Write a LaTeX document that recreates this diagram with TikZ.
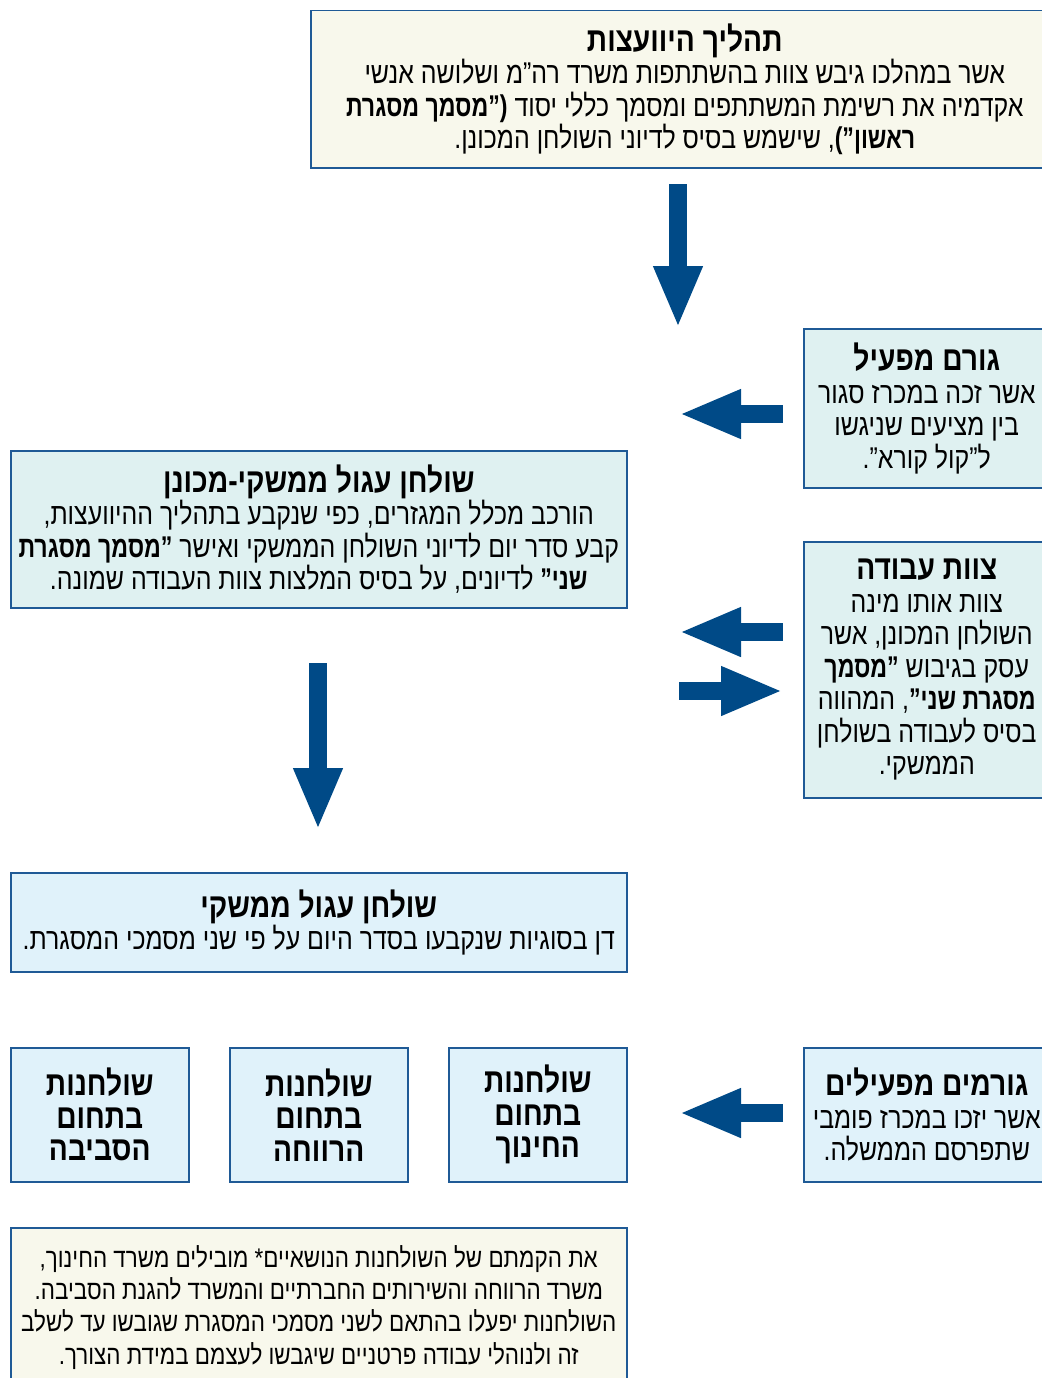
\documentclass[tikz,border=0pt]{standalone}
\usepackage{fontspec}
\usetikzlibrary{arrows.meta}
\TeXXeTstate=1
\newfontfamily\hebfont[Script=Hebrew,FakeStretch=0.83]{Liberation Sans}
\newfontfamily\hebnarrow[Script=Hebrew,FakeStretch=0.77]{Liberation Sans}
\newcommand{\heb}[1]{\beginR #1\endR}
\newcommand{\bld}[1]{{\hebnarrow\bfseries #1}}
\newcommand{\ttl}[1]{{\bfseries\fontsize{34}{32.5}\selectfont\heb{#1}}}
\definecolor{arrowblue}{HTML}{004A87}
\definecolor{boxline}{HTML}{1F5A96}
\definecolor{creamfill}{HTML}{F8F8EC}
\definecolor{tealfill}{HTML}{DFF1F1}
\definecolor{bluefill}{HTML}{E0F2FA}
\tikzset{
  infobox/.style={draw=boxline, line width=1.5pt, anchor=north west, align=center,
    inner sep=0pt, font=\hebfont\fontsize{30}{32.5}\selectfont},
  bigarrow/.style={arrowblue, line width=18pt, -{Triangle[width=45pt,length=62pt]}},
}
\begin{document}
\begin{tikzpicture}[x=1pt,y=-1pt]
     \useasboundingbox (0,0) rectangle (1041,1378);
     % boxes
     \node[infobox, fill=creamfill, minimum width=748pt, minimum height=157pt] (consult) at (310,10)
       {\ttl{תהליך היוועצות}\\
        \heb{אשר במהלכו גיבש צוות בהשתתפות משרד רה”מ ושלושה אנשי}\\
        \heb{אקדמיה את רשימת המשתתפים ומסמך כללי יסוד \bld{(”מסמך מסגרת}}\\
        \heb{\bld{ראשון”)}, שישמש בסיס לדיוני השולחן המכונן.}};
     \node[infobox, fill=tealfill, minimum width=246pt, minimum height=159pt] (operator) at (803,328)
       {\ttl{גורם מפעיל}\\
        \heb{אשר זכה במכרז סגור}\\
        \heb{בין מציעים שניגשו}\\
        \heb{ל”קול קורא”.}};
     \node[infobox, fill=tealfill, minimum width=616pt, minimum height=157pt] (founding) at (10,450)
       {\ttl{שולחן עגול ממשקי-מכונן}\\
        \heb{הורכב מכלל המגזרים, כפי שנקבע בתהליך ההיוועצות,}\\
        \heb{קבע סדר יום לדיוני השולחן הממשקי ואישר \bld{”מסמך מסגרת}}\\
        \heb{\bld{שני”} לדיונים, על בסיס המלצות צוות העבודה שמונה.}};
     \node[infobox, fill=tealfill, minimum width=246pt, minimum height=256pt] (team) at (803,541)
       {\ttl{צוות עבודה}\\
        \heb{צוות אותו מינה}\\
        \heb{השולחן המכונן, אשר}\\
        \heb{עסק בגיבוש \bld{”מסמך}}\\
        \heb{\bld{מסגרת שני”}, המהווה}\\
        \heb{בסיס לעבודה בשולחן}\\
        \heb{הממשקי.}};
     \node[infobox, fill=bluefill, minimum width=616pt, minimum height=99pt] (roundtable) at (10,872)
       {\ttl{שולחן עגול ממשקי}\\
        \heb{דן בסוגיות שנקבעו בסדר היום על פי שני מסמכי המסגרת.}};
     \node[infobox, fill=bluefill, minimum width=178pt, minimum height=134pt] (education) at (448,1047)
       {\ttl{שולחנות}\\ \ttl{בתחום}\\ \ttl{החינוך}};
     \node[infobox, fill=bluefill, minimum width=178pt, minimum height=134pt] (welfare) at (229,1047)
       {\ttl{שולחנות}\\ \ttl{בתחום}\\ \ttl{הרווחה}};
     \node[infobox, fill=bluefill, minimum width=178pt, minimum height=134pt] (environment) at (10,1047)
       {\ttl{שולחנות}\\ \ttl{בתחום}\\ \ttl{הסביבה}};
     \node[infobox, fill=bluefill, minimum width=246pt, minimum height=134pt] (operators) at (803,1047)
       {\ttl{גורמים מפעילים}\\
        \heb{אשר יזכו במכרז פומבי}\\
        \heb{שתפרסם הממשלה.}};
     \node[infobox, fill=creamfill, minimum width=616pt, minimum height=159pt,
       font=\hebfont\fontsize{27}{32.3}\selectfont] (note) at (10,1227)
       {\heb{את הקמתם של השולחנות הנושאיים* מובילים משרד החינוך,}\\
        \heb{משרד הרווחה והשירותים החברתיים והמשרד להגנת הסביבה.}\\
        \heb{השולחנות יפעלו בהתאם לשני מסמכי המסגרת שגובשו עד לשלב}\\
        \heb{זה ולנוהלי עבודה פרטניים שיגבשו לעצמם במידת הצורך.}};
     % arrows
     \coordinate (d1s) at (678,184);  \coordinate (d1e) at (678,328);
     \coordinate (l1s) at (783,414);  \coordinate (l1e) at (679,414);
     \coordinate (l2s) at (783,632);  \coordinate (l2e) at (679,632);
     \coordinate (r1s) at (679,691);  \coordinate (r1e) at (783,691);
     \coordinate (d2s) at (318,663);  \coordinate (d2e) at (318,830);
     \coordinate (l3s) at (783,1113); \coordinate (l3e) at (679,1113);
     \draw[bigarrow] (d1s) -- (d1e);
     \draw[bigarrow] (l1s) -- (l1e);
     \draw[bigarrow] (l2s) -- (l2e);
     \draw[bigarrow] (r1s) -- (r1e);
     \draw[bigarrow] (d2s) -- (d2e);
     \draw[bigarrow] (l3s) -- (l3e);
\end{tikzpicture}
\end{document}
